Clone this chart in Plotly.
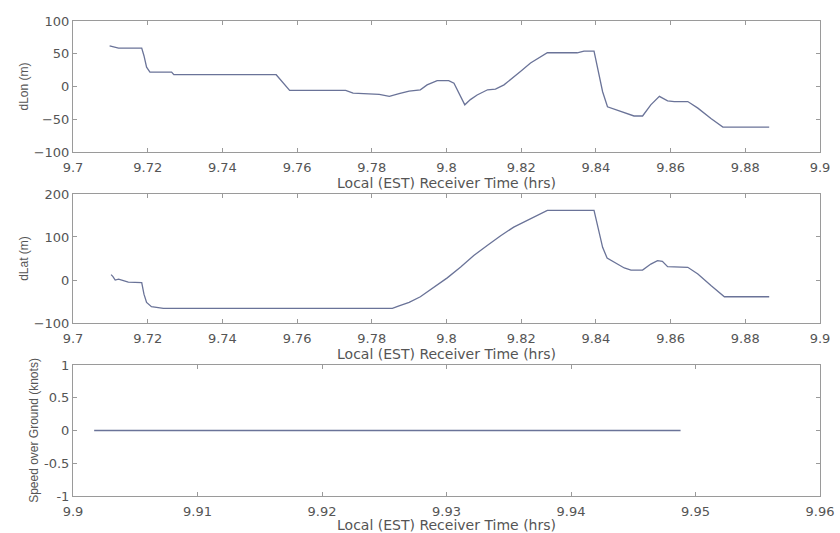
import plotly.graph_objects as go

# ---- Panel 1: dLon (m) vs local time (hrs)
lon_t = [9.7098, 9.7116, 9.7122, 9.7184, 9.7190, 9.7197, 9.7206, 9.7264, 9.7270,
         9.7544, 9.7557, 9.7580, 9.7730, 9.7750, 9.7820, 9.7847, 9.7873, 9.7900,
         9.7930, 9.7948, 9.7975, 9.8006, 9.8020, 9.8038, 9.8049, 9.8064, 9.8082,
         9.8110, 9.8131, 9.8154, 9.8171, 9.8198, 9.8225, 9.8252, 9.8270, 9.8350,
         9.8368, 9.8395, 9.8400, 9.8409, 9.8418, 9.8431, 9.8449, 9.8476, 9.8502,
         9.8525, 9.8547, 9.8570, 9.8592, 9.8610, 9.8646, 9.8673, 9.8708, 9.8740,
         9.8864]
lon_v = [62, 60, 58.5, 58.5, 47, 29.5, 22, 22, 18,
         18, 9, -6, -6, -10, -12, -15, -11, -7,
         -5, 2.5, 9, 9, 5, -15, -28, -20, -13,
         -5, -4, 2.5, 10, 23, 36, 46, 51.5, 51.5,
         54, 54, 41, 13, -8, -31, -34.5, -40, -45,
         -45, -28, -15, -22, -23, -23, -33, -49, -62,
         -62]

# ---- Panel 2: dLat (m) vs local time (hrs)
lat_t = [9.7102, 9.7107, 9.7113, 9.7122, 9.7135, 9.7148, 9.7184, 9.7190, 9.7197,
         9.7210, 9.7242, 9.7855, 9.7873, 9.7900, 9.7930, 9.7966, 9.8002, 9.8038,
         9.8073, 9.8109, 9.8145, 9.8180, 9.8216, 9.8243, 9.8270, 9.8395, 9.8404,
         9.8418, 9.8430, 9.8449, 9.8476, 9.8494, 9.8525, 9.8547, 9.8565, 9.8578,
         9.8592, 9.8646, 9.8673, 9.8708, 9.8744, 9.8864]
lat_v = [12.4, 8, 0, 2, -1.5, -5, -6, -33, -52,
         -62, -66, -66, -60, -52, -39, -17, 5, 30,
         57, 80, 103, 123, 138, 150, 162, 162, 130,
         76, 51, 41, 28, 23, 23, 37, 45, 43.5,
         31, 29.5, 14, -13, -39, -39]

# ---- Panel 3: speed over ground (knots)
sog_t = [9.9017, 9.9100, 9.9200, 9.9300, 9.9400, 9.9488]
sog_v = [0, 0, 0, 0, 0, 0]

# ---- ticks
x12_ticks = [9.70, 9.72, 9.74, 9.76, 9.78, 9.80, 9.82, 9.84, 9.86, 9.88, 9.90]
x12_labels = ["9.7", "9.72", "9.74", "9.76", "9.78", "9.8", "9.82", "9.84", "9.86", "9.88", "9.9"]
x3_ticks = [9.90, 9.91, 9.92, 9.93, 9.94, 9.95, 9.96]
x3_labels = ["9.9", "9.91", "9.92", "9.93", "9.94", "9.95", "9.96"]
y1_ticks = [-100, -50, 0, 50, 100]
y2_ticks = [-100, 0, 100, 200]
y3_ticks = [-1, -0.5, 0, 0.5, 1]
y3_labels = ["-1", "-0.5", "0", "0.5", "1"]

xtitle = "Local (EST) Receiver Time (hrs)"
ytitles = ["dLon (m)", "dLat (m)", "Speed over Ground (knots)"]

LINE = "#6a7398"
AXC = "#9a9a9a"
TXT = "#555555"
TICKFONT = dict(family="DejaVu Sans", size=13, color=TXT)
XTITLEFONT = dict(family="DejaVu Sans", size=14, color=TXT)
YTITLEFONT = dict(family="Liberation Sans", size=12, color=TXT)

fig = go.Figure()
fig.add_trace(go.Scatter(x=lon_t, y=lon_v, mode="lines", line=dict(color=LINE, width=1.3),
                         xaxis="x", yaxis="y", showlegend=False))
fig.add_trace(go.Scatter(x=lat_t, y=lat_v, mode="lines", line=dict(color=LINE, width=1.3),
                         xaxis="x2", yaxis="y2", showlegend=False))
fig.add_trace(go.Scatter(x=sog_t, y=sog_v, mode="lines", line=dict(color=LINE, width=1.3),
                         xaxis="x3", yaxis="y3", showlegend=False))

common_x = dict(showline=True, linecolor=AXC, linewidth=1, mirror="ticks", ticks="inside",
                ticklen=4, tickcolor=AXC, showgrid=False, zeroline=False, tickfont=TICKFONT,
                ticklabelstandoff=3, title_font=XTITLEFONT, title_standoff=2, automargin=False)
common_y = dict(showline=True, linecolor=AXC, linewidth=1, mirror="ticks", ticks="inside",
                ticklen=4, tickcolor=AXC, showgrid=False, zeroline=False, tickfont=TICKFONT,
                title_font=YTITLEFONT, title_standoff=2, automargin=False)

d1 = [0.7242, 1.0]
d2 = [0.3642, 0.6358]
d3 = [0.0, 0.2758]

fig.update_layout(
    width=840, height=533,
    margin=dict(l=73, r=20, t=21, b=37),
    paper_bgcolor="white", plot_bgcolor="white",
    xaxis=dict(common_x, domain=[0, 1], anchor="y", range=[9.7, 9.9],
               tickvals=x12_ticks, ticktext=x12_labels, title_text=xtitle),
    yaxis=dict(common_y, domain=d1, anchor="x", range=[-100, 100],
               tickvals=y1_ticks, title_text=ytitles[0]),
    xaxis2=dict(common_x, domain=[0, 1], anchor="y2", range=[9.7, 9.9],
                tickvals=x12_ticks, ticktext=x12_labels, title_text=xtitle),
    yaxis2=dict(common_y, domain=d2, anchor="x2", range=[-100, 200],
                tickvals=y2_ticks, title_text=ytitles[1]),
    xaxis3=dict(common_x, domain=[0, 1], anchor="y3", range=[9.9, 9.96],
                tickvals=x3_ticks, ticktext=x3_labels, title_text=xtitle),
    yaxis3=dict(common_y, domain=d3, anchor="x3", range=[-1, 1],
                tickvals=y3_ticks, ticktext=y3_labels, title_text=ytitles[2]),
)

fig.write_html("out.html")
